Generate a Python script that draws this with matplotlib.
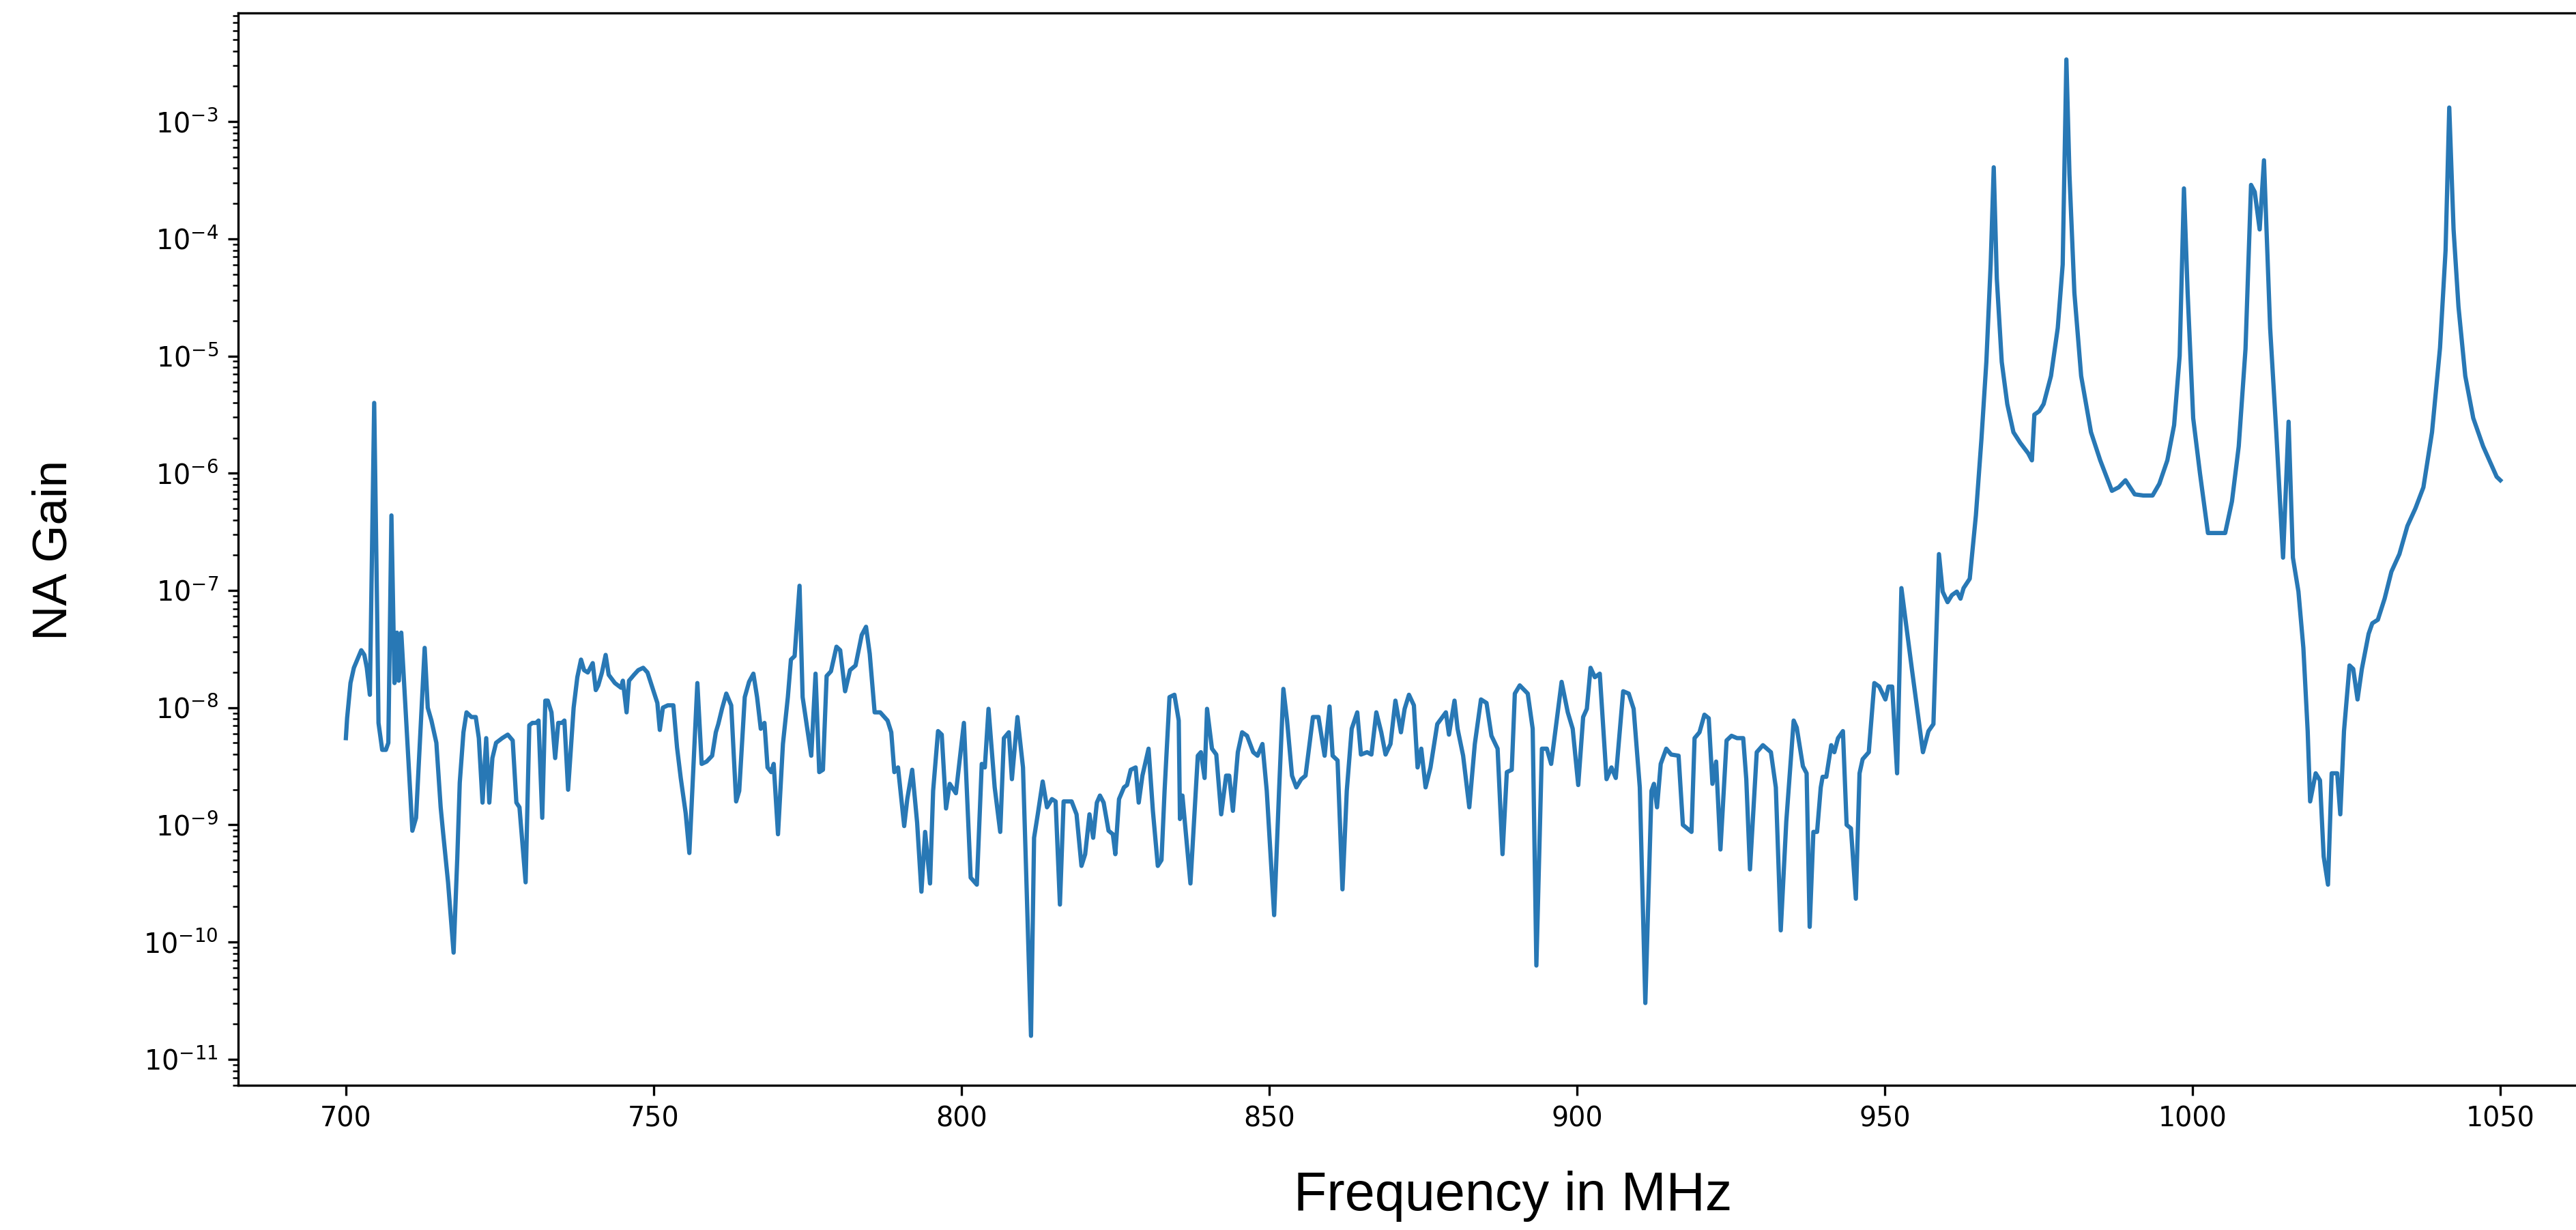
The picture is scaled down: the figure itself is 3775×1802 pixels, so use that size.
import numpy as np
import matplotlib
matplotlib.use("Agg")
import matplotlib.pyplot as plt
from matplotlib.ticker import LogLocator, FixedLocator

# (frequency in MHz, log10 of NA gain), by segment
seg_700_756 = [
    (700.0, -8.26), (700.2, -8.09), (700.75, -7.79), (701.3, -7.66), (702.5, -7.51), (703.0, -7.55),
    (703.4, -7.66), (703.9, -7.89), (704.6, -5.40), (705.1, -7.27), (705.3, -8.13), (705.9, -8.36),
    (706.5, -8.36), (706.9, -8.30), (707.4, -6.36), (707.9, -7.79), (708.3, -7.36), (708.6, -7.77),
    (709.0, -7.36), (709.9, -8.21), (710.8, -9.05), (711.4, -8.94), (712.8, -7.49), (713.3, -8.00),
    (713.9, -8.11), (714.7, -8.30), (715.4, -8.85), (715.8, -9.07), (716.6, -9.49), (717.5, -10.09),
    (718.1, -9.28), (718.5, -8.64), (719.1, -8.21), (719.6, -8.04), (720.4, -8.08), (721.1, -8.08),
    (721.6, -8.26), (722.2, -8.81), (722.8, -8.26), (723.3, -8.81), (723.8, -8.43), (724.4, -8.30),
    (725.4, -8.26), (726.3, -8.23), (727.1, -8.28), (727.7, -8.81), (728.2, -8.85), (729.2, -9.49),
    (729.8, -8.15), (730.3, -8.13), (730.9, -8.13), (731.3, -8.11), (731.9, -8.94), (732.4, -7.94),
    (732.8, -7.94), (733.4, -8.04), (734.0, -8.43), (734.5, -8.13), (735.1, -8.13), (735.5, -8.11),
    (736.1, -8.70), (737.0, -8.00), (737.6, -7.74), (738.2, -7.59), (738.7, -7.68), (739.3, -7.70),
    (740.1, -7.62), (740.6, -7.85), (741.0, -7.81), (741.6, -7.70), (742.2, -7.55), (742.7, -7.72),
    (743.7, -7.79), (744.7, -7.83), (745.0, -7.77), (745.6, -8.04), (746.0, -7.77), (746.8, -7.72),
    (747.5, -7.68), (748.3, -7.66), (749.0, -7.70), (749.8, -7.83), (750.6, -7.96), (751.0, -8.19),
    (751.5, -8.00), (752.3, -7.98), (753.2, -7.98), (753.8, -8.34), (754.4, -8.60), (755.2, -8.90),
    (755.8, -9.24),
]
seg_757_814 = [
    (757.1, -7.79), (757.8, -8.48), (758.6, -8.46), (759.5, -8.41), (760.1, -8.21), (760.5, -8.14),
    (761.1, -8.01), (761.8, -7.88), (762.6, -7.98), (763.4, -8.80), (763.9, -8.71), (764.8, -7.91),
    (765.5, -7.78), (766.2, -7.71), (766.8, -7.91), (767.4, -8.18), (768.0, -8.13), (768.5, -8.51),
    (769.1, -8.55), (769.5, -8.48), (770.2, -9.08), (771.0, -8.31), (771.8, -7.91), (772.3, -7.59),
    (772.9, -7.56), (773.7, -6.96), (774.2, -7.91), (775.6, -8.41), (776.3, -7.71), (776.9, -8.55),
    (777.5, -8.53), (778.1, -7.73), (778.8, -7.69), (779.7, -7.48), (780.3, -7.51), (781.1, -7.86),
    (781.9, -7.68), (782.8, -7.64), (783.8, -7.38), (784.5, -7.31), (785.1, -7.54), (785.9, -8.04),
    (786.8, -8.04), (788.0, -8.11), (788.6, -8.21), (789.1, -8.55), (789.7, -8.51), (790.7, -9.01),
    (791.2, -8.78), (792.0, -8.53), (792.8, -8.98), (793.5, -9.57), (794.1, -9.06), (794.9, -9.50),
    (795.4, -8.71), (796.2, -8.20), (796.8, -8.23), (797.5, -8.86), (798.1, -8.65), (799.1, -8.73),
    (800.4, -8.13), (801.5, -9.45), (802.5, -9.51), (803.3, -8.48), (803.8, -8.51), (804.4, -8.01),
    (805.4, -8.68), (806.3, -9.06), (806.9, -8.26), (807.7, -8.21), (808.2, -8.61), (809.1, -8.08),
    (810.0, -8.51), (810.5, -9.38), (811.3, -10.80), (811.8, -9.11), (812.4, -8.91), (813.2, -8.63),
    (813.9, -8.85),
]
seg_815_871 = [
    (814.7, -8.78), (815.3, -8.80), (816.0, -9.68), (816.6, -8.80), (817.9, -8.80), (818.7, -8.91),
    (819.5, -9.35), (820.1, -9.25), (820.8, -8.91), (821.4, -9.11), (822.0, -8.81), (822.5, -8.75),
    (823.1, -8.81), (823.9, -9.05), (824.6, -9.08), (825.0, -9.25), (825.6, -8.78), (826.4, -8.68),
    (826.9, -8.66), (827.5, -8.53), (828.3, -8.51), (828.8, -8.81), (829.4, -8.58), (830.4, -8.35),
    (831.1, -8.88), (831.9, -9.35), (832.5, -9.30), (833.0, -8.71), (833.8, -7.91), (834.6, -7.89),
    (835.3, -8.11), (835.5, -8.95), (835.9, -8.75), (836.3, -8.98), (837.2, -9.50), (837.8, -8.95),
    (838.4, -8.41), (838.9, -8.38), (839.5, -8.60), (839.9, -8.01), (840.7, -8.35), (841.4, -8.40),
    (842.2, -8.91), (843.0, -8.58), (843.5, -8.58), (844.1, -8.88), (844.9, -8.38), (845.6, -8.21),
    (846.4, -8.24), (847.4, -8.38), (848.1, -8.41), (848.9, -8.31), (849.6, -8.71), (850.8, -9.77),
    (851.6, -8.71), (852.3, -7.84), (852.9, -8.11), (853.7, -8.58), (854.4, -8.68), (855.2, -8.61),
    (855.9, -8.58), (857.1, -8.08), (858.0, -8.08), (859.0, -8.41), (859.8, -7.99), (860.3, -8.41),
    (861.1, -8.45), (861.9, -9.55), (862.6, -8.71), (863.4, -8.18), (864.3, -8.04), (864.9, -8.40),
    (865.9, -8.38), (866.6, -8.40), (867.4, -8.04), (868.2, -8.21), (868.9, -8.40), (869.7, -8.31),
    (870.5, -7.94),
]
seg_871_928 = [
    (871.4, -8.21), (872.0, -8.01), (872.7, -7.89), (873.5, -7.98), (874.1, -8.51), (874.7, -8.35),
    (875.4, -8.68), (876.2, -8.51), (877.3, -8.14), (878.7, -8.04), (879.2, -8.23), (880.1, -7.94),
    (880.6, -8.18), (881.5, -8.41), (882.5, -8.85), (883.4, -8.31), (884.4, -7.93), (885.3, -7.96),
    (886.1, -8.24), (887.1, -8.35), (887.9, -9.25), (888.6, -8.55), (889.4, -8.53), (889.9, -7.88),
    (890.7, -7.81), (892.0, -7.88), (892.8, -8.18), (893.4, -10.20), (894.3, -8.35), (895.1, -8.35),
    (895.8, -8.48), (897.5, -7.78), (898.5, -8.04), (899.3, -8.18), (900.2, -8.66), (901.0, -8.08),
    (901.6, -8.01), (902.2, -7.66), (902.9, -7.74), (903.7, -7.71), (904.8, -8.61), (905.6, -8.51),
    (906.3, -8.60), (907.5, -7.86), (908.4, -7.88), (909.2, -8.01), (910.2, -8.68), (911.1, -10.52),
    (912.1, -8.71), (912.5, -8.65), (913.0, -8.85), (913.6, -8.48), (914.5, -8.35), (915.3, -8.40),
    (916.5, -8.41), (917.2, -9.00), (918.6, -9.06), (919.1, -8.26), (919.9, -8.21), (920.7, -8.06),
    (921.4, -8.09), (922.0, -8.65), (922.6, -8.46), (923.3, -9.21), (924.3, -8.28), (925.1, -8.24),
    (926.0, -8.26), (927.0, -8.26), (927.5, -8.61), (928.1, -9.38),
]
seg_929_985 = [
    (929.2, -8.38), (930.2, -8.32), (931.5, -8.38), (932.3, -8.68), (933.1, -9.90), (934.0, -8.97),
    (935.2, -8.11), (935.7, -8.17), (936.7, -8.50), (937.3, -8.56), (937.8, -9.87), (938.4, -9.06),
    (939.0, -9.06), (939.6, -8.68), (939.9, -8.59), (940.5, -8.59), (941.3, -8.32), (941.8, -8.38),
    (942.4, -8.26), (943.2, -8.20), (943.8, -9.00), (944.5, -9.03), (945.3, -9.63), (945.9, -8.56),
    (946.4, -8.44), (947.4, -8.38), (948.3, -7.79), (949.1, -7.82), (950.1, -7.93), (950.6, -7.82),
    (951.2, -7.82), (952.0, -8.56), (952.7, -6.98), (954.4, -7.67), (956.2, -8.38), (957.1, -8.20),
    (957.9, -8.14), (958.8, -6.69), (959.4, -7.01), (960.2, -7.10), (960.9, -7.04), (961.7, -7.01),
    (962.3, -7.07), (962.8, -6.98), (963.8, -6.90), (964.8, -6.36), (965.7, -5.71), (966.5, -5.05),
    (967.2, -4.22), (967.7, -3.39), (968.2, -4.34), (969.0, -5.05), (969.9, -5.41), (970.9, -5.65),
    (972.0, -5.74), (973.3, -5.83), (973.9, -5.89), (974.3, -5.50), (975.1, -5.47), (975.8, -5.41),
    (977.0, -5.17), (978.1, -4.76), (978.9, -4.22), (979.5, -2.47), (980.0, -3.45), (980.8, -4.46),
    (981.9, -5.17), (983.5, -5.65), (985.0, -5.89),
]
seg_987_1050 = [
    (986.9, -6.15), (988.0, -6.12), (989.1, -6.06), (990.6, -6.18), (992.0, -6.19), (993.5, -6.19),
    (994.6, -6.09), (995.9, -5.89), (997.0, -5.59), (997.9, -5.00), (998.6, -3.57), (999.2, -4.46),
    (1000.1, -5.53), (1001.2, -6.00), (1002.5, -6.51), (1003.8, -6.51), (1005.3, -6.51), (1006.4, -6.24),
    (1007.5, -5.77), (1008.6, -4.94), (1009.5, -3.54), (1010.1, -3.60), (1010.9, -3.92), (1011.6, -3.33),
    (1012.6, -4.76), (1013.6, -5.65), (1014.7, -6.72), (1015.6, -5.56), (1016.3, -6.72), (1017.2, -7.01),
    (1018.0, -7.49), (1018.7, -8.20), (1019.1, -8.80), (1020.0, -8.56), (1020.7, -8.62), (1021.3, -9.27),
    (1022.0, -9.51), (1022.6, -8.56), (1023.5, -8.56), (1024.0, -8.91), (1024.6, -8.20), (1025.5, -7.64),
    (1026.1, -7.67), (1026.8, -7.93), (1027.5, -7.67), (1028.6, -7.37), (1029.2, -7.28), (1030.1, -7.25),
    (1031.2, -7.07), (1032.3, -6.84), (1033.6, -6.69), (1034.9, -6.45), (1036.2, -6.30), (1037.5, -6.12),
    (1038.9, -5.65), (1040.2, -4.93), (1041.1, -4.10), (1041.7, -2.88), (1042.4, -3.92), (1043.2, -4.58),
    (1044.3, -5.17), (1045.6, -5.53), (1047.2, -5.77), (1049.4, -6.03), (1050.0, -6.06),
]

x_ticks = [700, 750, 800, 850, 900, 950, 1000, 1050]
x_label = "Frequency in MHz"
y_label = "NA Gain"

points = seg_700_756 + seg_757_814 + seg_815_871 + seg_871_928 + seg_929_985 + seg_987_1050
freq = np.array([p[0] for p in points])
gain = 10.0 ** np.array([p[1] for p in points])

W, H, DPI = 3775, 1802, 300
fig = plt.figure(figsize=(W / DPI, H / DPI), dpi=DPI)
fig.patch.set_facecolor("white")

# axes extends past the right edge of the figure (reference is cropped there)
ax_left, ax_right = 349 / W, 3822 / W
ax_top, ax_bottom = 1 - 19 / H, 1 - 1590 / H
ax = fig.add_axes([ax_left, ax_bottom, ax_right - ax_left, ax_top - ax_bottom])

ax.plot(freq, gain, color="#2878b5", linewidth=1.5)
ax.set_yscale("log")
ax.set_xlim(682.5, 1067.5)
ax.set_ylim(6.0e-12, 8.45e-3)

ax.xaxis.set_major_locator(FixedLocator(x_ticks))
ax.yaxis.set_major_locator(LogLocator(base=10, numticks=30))
ax.yaxis.set_minor_locator(LogLocator(base=10, subs=np.arange(2, 10), numticks=100))
ax.tick_params(axis="both", which="major", labelsize=9.5, length=3.5, width=0.8)
ax.tick_params(axis="y", which="minor", length=2, width=0.6)

fig.text(2217 / W, 1 - 1752 / H, x_label, ha="center", va="center",
         fontsize=19, family="Liberation Sans")
fig.text(80 / W, 1 - 806 / H, y_label, ha="center", va="center", rotation=90,
         fontsize=17, family="Liberation Sans")

fig.savefig("out.png", dpi=DPI)
